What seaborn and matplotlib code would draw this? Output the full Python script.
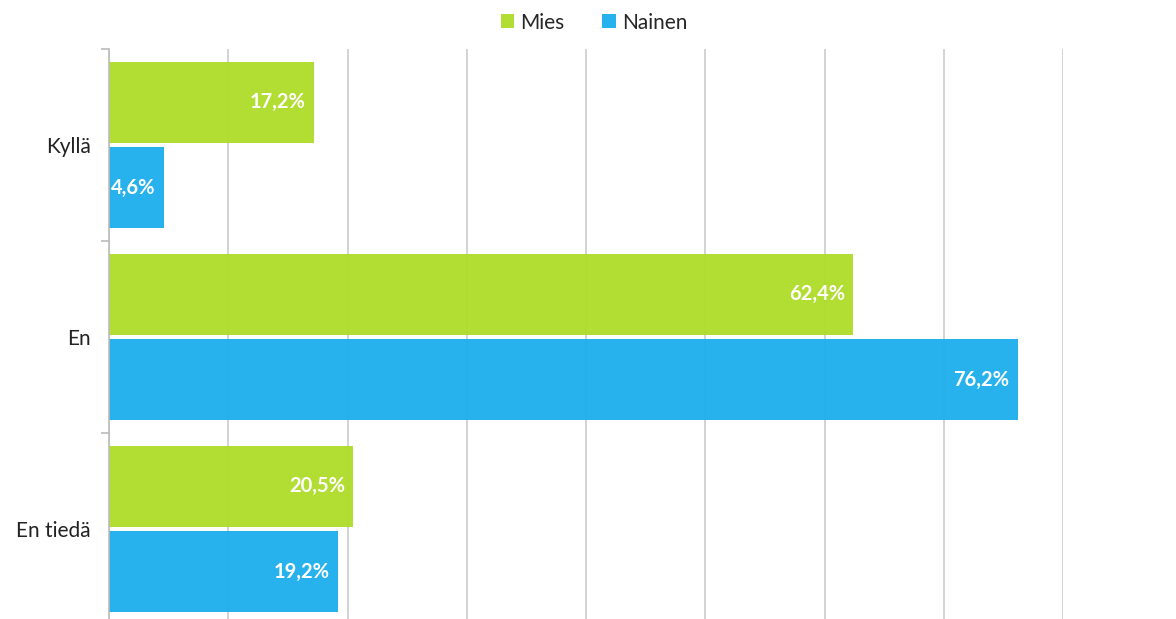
import pandas as pd
import matplotlib.pyplot as plt
import seaborn as sns

categories = ["Kyllä", "En", "En tiedä"]
mies = [17.2, 62.4, 20.5]
nainen = [4.6, 76.2, 19.2]
series = ["Mies", "Nainen"]
colors = ["#AEDC28", "#1CAEEC"]

dataFrame = pd.DataFrame({
    "Vastaus": categories * 2,
    "Sukupuoli": [series[0]] * 3 + [series[1]] * 3,
    "Osuus": mies + nainen,
})

sns.set_theme(style="white")
plt.rcParams["font.family"] = ["Lato", "DejaVu Sans"]

fig = plt.figure(figsize=(11.76, 6.19), dpi=100)
ax = fig.add_axes([109 / 1176, (619 - 625) / 619, (1063 - 109) / 1176, 576 / 619])

sns.barplot(
    data=dataFrame, y="Vastaus", x="Osuus", hue="Sukupuoli",
    orient="h", palette=colors, saturation=1, width=0.89, gap=0.05,
    alpha=0.95, linewidth=0, ax=ax, legend=True
)

ax.set_xlim(0, 80)
ax.set_ylim(2.5, -0.5)
ax.set_xticks(range(0, 81, 10))
ax.xaxis.grid(True, color="#D0D0D0", linewidth=1.3)
ax.set_axisbelow(True)
ax.tick_params(axis="x", length=0, labelbottom=False)
ax.set_xlabel("")
ax.set_ylabel("")

ax.set_yticks([0, 1, 2])
ax.set_yticklabels(categories, fontsize=15, color="#222222")
ax.tick_params(axis="y", which="major", length=0, pad=13)
ax.set_yticks([-0.5, 0.5, 1.5, 2.5], minor=True)
ax.tick_params(axis="y", which="minor", length=6, color="#BBBBBB", width=1.2, left=True)

for side in ["top", "right", "bottom"]:
    ax.spines[side].set_visible(False)
ax.spines["left"].set_color("#BBBBBB")
ax.spines["left"].set_linewidth(1.2)

for container in ax.containers:
    texts = ax.bar_label(
        container,
        labels=[f"{v:.1f}%".replace(".", ",") for v in container.datavalues],
        padding=-6, color="white", fontsize=14.5, fontweight="bold"
    )
    for t in texts:
        t.set_ha("right")

ax.legend_.remove()
handles, labels = ax.get_legend_handles_labels()
fig.legend(
    handles, labels, loc="upper center", bbox_to_anchor=(0.505, 1.01),
    ncol=2, frameon=False, fontsize=15, handlelength=0.65,
    handleheight=0.65, handletextpad=0.3, columnspacing=1.8
)

fig.savefig("out.png", dpi=100)
